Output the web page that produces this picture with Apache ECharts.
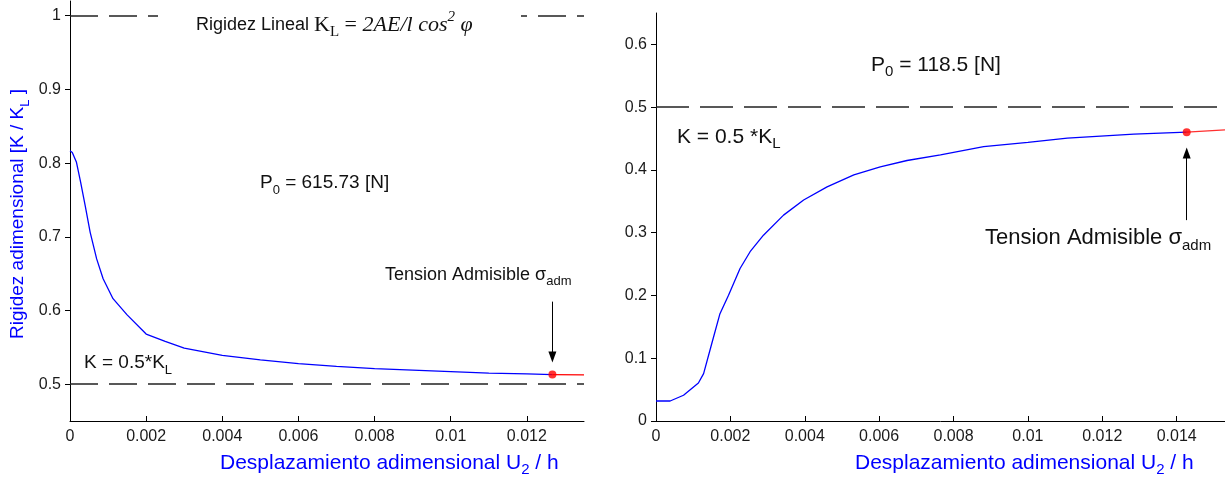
<!DOCTYPE html>
<html>
<head>
<meta charset="utf-8">
<script src="https://cdn.jsdelivr.net/npm/echarts@6/dist/echarts.min.js"></script>
<style>
  html, body { margin: 0; padding: 0; background: #fff; }
  #chart { width: 1225px; height: 478px; }
</style>
</head>
<body>
<div id="chart"></div>
<script>
// ---- left panel (P0 = 615.73 N) ----
const leftCurve = [
  [0, 0.8167], [0.00006, 0.8145], [0.00017, 0.801], [0.00028, 0.774], [0.0004, 0.742],
  [0.00053, 0.706], [0.0007, 0.670], [0.00087, 0.643], [0.00113, 0.616], [0.0015, 0.594],
  [0.002, 0.568], [0.0025, 0.558], [0.003, 0.549], [0.004, 0.539], [0.005, 0.533],
  [0.006, 0.528], [0.007, 0.524], [0.008, 0.521], [0.009, 0.519], [0.01, 0.517],
  [0.011, 0.515], [0.012, 0.514], [0.01267, 0.513]
];
const leftRed = [[0.01267, 0.513], [0.0135, 0.5125]];
const leftAdm = [0.01267, 0.513];
const leftArrow = [0.612, 0.537];     // arrow start / end (K / KL)
const leftLevels = [1, 0.5];
const leftXTicks = [0, 0.002, 0.004, 0.006, 0.008, 0.01, 0.012];
const leftYTicks = [0.5, 0.6, 0.7, 0.8, 0.9, 1];

// ---- right panel (P0 = 118.5 N) ----
const rightCurve = [
  [0, 0.0319], [0.00038, 0.0319], [0.00074, 0.041], [0.00114, 0.0606], [0.00128, 0.0755],
  [0.0015, 0.1234], [0.00172, 0.171], [0.00195, 0.2005], [0.00226, 0.243], [0.00253, 0.2697],
  [0.00289, 0.296], [0.00343, 0.328], [0.00397, 0.352], [0.0046, 0.373], [0.00532, 0.392],
  [0.00603, 0.405], [0.00675, 0.415], [0.00765, 0.424], [0.00881, 0.437], [0.01, 0.444],
  [0.01106, 0.4506], [0.01285, 0.457], [0.01427, 0.4602]
];
const rightRed = [[0.01427, 0.4602], [0.0153, 0.4639]];
const rightAdm = [0.01427, 0.4602];
const rightArrow = [0.32, 0.427];
const rightLevels = [0.5];
const rightXTicks = [0, 0.002, 0.004, 0.006, 0.008, 0.01, 0.012, 0.014];
const rightYTicks = [0, 0.1, 0.2, 0.3, 0.4, 0.5, 0.6];

const FONT = "'Liberation Sans', Arial, sans-serif";
const SERIF = "'Liberation Serif', 'Times New Roman', serif";
const INK = '#111';
const BLUE = '#0000ff';

function xAxisOf(grid, max, ticks) {
  return {
    type: 'value', gridIndex: grid, min: 0, max: max,
    axisLine: { onZero: false, lineStyle: { color: '#000', width: 1 } },
    axisTick: { inside: true, length: 5, customValues: ticks, lineStyle: { color: '#000' } },
    axisLabel: { customValues: ticks, margin: 8, color: '#1a1a1a', fontSize: 16, fontFamily: FONT },
    splitLine: { show: false }
  };
}

function yAxisOf(grid, min, max, ticks) {
  return {
    type: 'value', gridIndex: grid, min: min, max: max,
    axisLine: { onZero: false, lineStyle: { color: '#000', width: 1 } },
    axisTick: { length: 5, customValues: ticks, lineStyle: { color: '#000' } },
    axisLabel: { customValues: ticks, margin: 9, color: '#1a1a1a', fontSize: 16, fontFamily: FONT },
    splitLine: { show: false }
  };
}

function curveSeries(idx, data, color) {
  return {
    type: 'line', xAxisIndex: idx, yAxisIndex: idx, data: data,
    symbol: 'none', smooth: false, lineStyle: { color: color, width: 1.3 }, z: 3
  };
}

function levelLines(values, dash) {
  return {
    silent: true, symbol: 'none', label: { show: false },
    lineStyle: { color: '#222', width: 1.5, type: dash },
    data: values.map(v => ({ yAxis: v }))
  };
}

function admPoint(idx, pt, arrow) {
  return {
    type: 'scatter', xAxisIndex: idx, yAxisIndex: idx, data: [pt],
    symbolSize: 8, itemStyle: { color: '#ff0000' }, z: 5,
    markLine: {
      silent: true, symbol: ['none', 'triangle'], symbolSize: [8, 11],
      label: { show: false },
      lineStyle: { color: '#000', width: 1, type: 'solid' },
      itemStyle: { color: '#000' },
      data: [[{ coord: [pt[0], arrow[0]] }, { coord: [pt[0], arrow[1]] }]]
    }
  };
}

// rich text styles: normal / subscript / superscript
function rich(size, family, color, italic) {
  const H = size + 8;
  const off = Math.round(size * 0.38);
  const s = Math.round(size * 0.7);
  const st = italic ? 'italic' : 'normal';
  return {
    n: { fontSize: size, fontFamily: family, fill: color, lineHeight: H, fontStyle: st },
    s: { fontSize: s, fontFamily: family, fill: color, lineHeight: H - 2 * off, verticalAlign: 'bottom', fontStyle: st },
    p: { fontSize: s, fontFamily: family, fill: color, lineHeight: H - 2 * off, verticalAlign: 'top', fontStyle: st }
  };
}

function text(x, y, str, size, color, extra) {
  return Object.assign({
    type: 'text', x: x, y: y, z: 110,
    style: { text: str, rich: rich(size, FONT, color, false), fill: color, verticalAlign: 'middle', align: 'left' }
  }, extra || {});
}

const titleRich = Object.assign({}, rich(18, FONT, INK, false), {
  k: { fontSize: 22, fontFamily: SERIF, fill: INK, lineHeight: 30 },
  ks: { fontSize: 15, fontFamily: SERIF, fill: INK, lineHeight: 14, verticalAlign: 'bottom' },
  i: { fontSize: 22, fontFamily: SERIF, fill: INK, lineHeight: 30, fontStyle: 'italic' },
  ip: { fontSize: 15, fontFamily: SERIF, fill: INK, lineHeight: 14, verticalAlign: 'top', fontStyle: 'italic' }
});

const chart = echarts.init(document.getElementById('chart'), null, { renderer: 'canvas' });

chart.setOption({
  animation: false,
  backgroundColor: '#fff',
  grid: [
    { left: 70, top: 1, width: 514, height: 420 },
    { left: 656, top: 13, width: 569, height: 408 }
  ],
  xAxis: [xAxisOf(0, 0.0135, leftXTicks), xAxisOf(1, 0.0153, rightXTicks)],
  yAxis: [yAxisOf(0, 0.45, 1.02, leftYTicks), yAxisOf(1, 0, 0.65, rightYTicks)],
  series: [
    Object.assign(curveSeries(0, leftCurve, BLUE), { markLine: levelLines(leftLevels, [28, 11]) }),
    curveSeries(0, leftRed, '#ff0000'),
    admPoint(0, leftAdm, leftArrow),
    Object.assign(curveSeries(1, rightCurve, BLUE), { markLine: levelLines(rightLevels, [33, 11]) }),
    curveSeries(1, rightRed, '#ff3030'),
    admPoint(1, rightAdm, rightArrow)
  ],
  graphic: [
    // white box behind the title, breaks the K = KL dashed line
    { type: 'rect', z: 100, shape: { x: 158, y: 6, width: 363, height: 34 }, style: { fill: '#fff' } },
    {
      type: 'text', x: 196, y: 25, z: 110,
      style: {
        text: '{n|Rigidez Lineal }{k|K}{ks|L}{k| = }{i|2AE/l cos}{ip|2}{i| φ}',
        rich: titleRich, fill: INK, verticalAlign: 'middle', align: 'left'
      }
    },
    text(260, 183, '{n|P}{s|0}{n| = 615.73 [N]}', 19, INK),
    text(385, 275, '{n|Tension Admisible σ}{s|adm}', 18, INK),
    text(84, 363, '{n|K = 0.5*K}{s|L}', 19, INK),
    text(18, 214, '', 19, BLUE,
      { rotation: Math.PI / 2, style: { text: '{n|Rigidez adimensional [K / K}{s|L}{n| ]}', rich: rich(19, FONT, BLUE, false), fill: BLUE, verticalAlign: 'middle', align: 'center' } }),
    text(220, 463, '{n|Desplazamiento adimensional U}{s|2}{n| / h}', 21, BLUE),

    text(871, 65, '{n|P}{s|0}{n| = 118.5 [N]}', 21, INK),
    text(677, 137, '{n|K = 0.5 *K}{s|L}', 21, INK),
    text(985, 238, '{n|Tension Admisible σ}{s|adm}', 22, INK),
    text(855, 463, '{n|Desplazamiento adimensional U}{s|2}{n| / h}', 21, BLUE)
  ]
});
</script>
</body>
</html>
